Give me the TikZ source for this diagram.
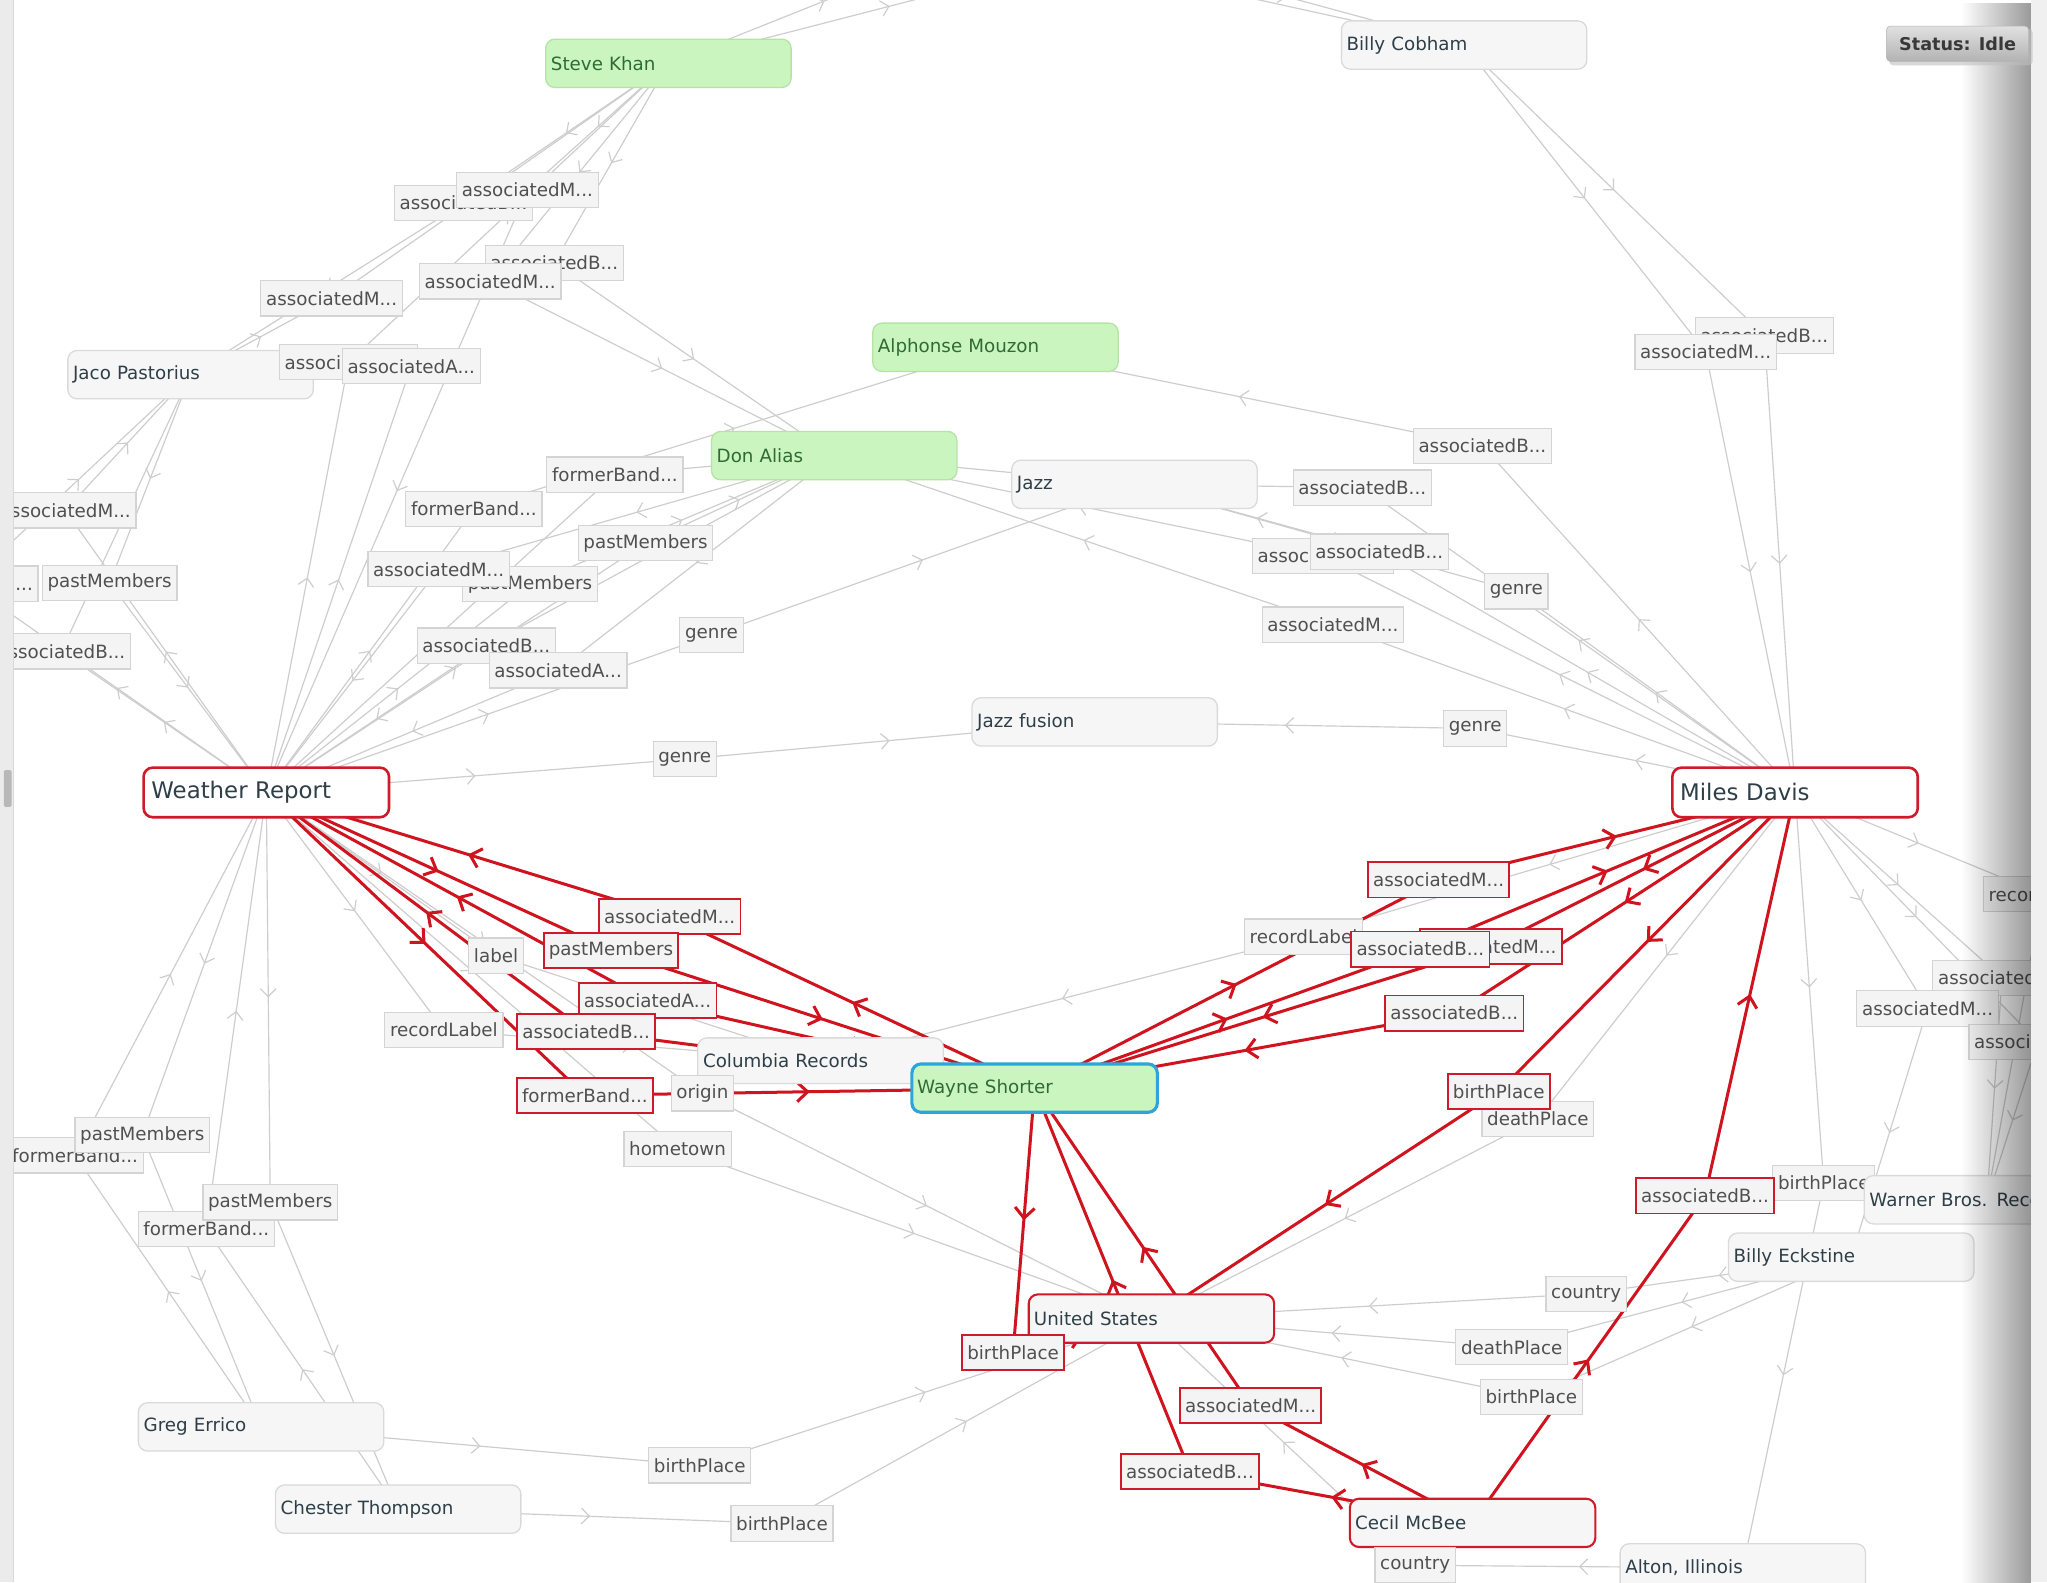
\documentclass[tikz,border=0pt]{standalone}
\usepackage{fontspec}
\setmainfont{DejaVu Sans}
\usetikzlibrary{arrows.meta,decorations.markings,fadings}
\definecolor{edgegray}{HTML}{CDCDCD}
\definecolor{redc}{HTML}{CE1B2B}
\definecolor{rededge}{HTML}{D0141F}
\definecolor{nodefill}{HTML}{F6F6F6}
\definecolor{nodeborder}{HTML}{DADADA}
\definecolor{nodetext}{HTML}{2E3F48}
\definecolor{greenfill}{HTML}{CBF5BF}
\definecolor{greenborder}{HTML}{B5E3A6}
\definecolor{greentext}{HTML}{2F6B35}
\definecolor{bluebord}{HTML}{2EA3DC}
\definecolor{lblfill}{HTML}{F4F4F4}
\definecolor{lblborder}{HTML}{D4D4D4}
\definecolor{lbltext}{HTML}{505050}
\pgfdeclarelayer{bg}
\pgfdeclarelayer{edges}
\pgfsetlayers{bg,edges,main}
\tikzset{
  ent/.style={rectangle, rounded corners=7pt, draw=nodeborder, line width=1pt, fill=nodefill, text=nodetext, font=\fontsize{14}{16}\selectfont, inner xsep=4pt, inner ysep=0pt, text width=180pt, minimum height=37pt, align=left},
  grn/.style={ent, fill=greenfill, draw=greenborder, text=greentext},
  rednode/.style={ent, draw=redc, line width=1.6pt},
  big/.style={rednode, line width=2pt, fill=white, font=\fontsize{17.5}{20}\selectfont, inner xsep=6pt, text width=176pt, minimum height=38pt},
  wsnode/.style={ent, fill=greenfill, draw=bluebord, line width=2.4pt, text=greentext},
  lbl/.style={rectangle, draw=lblborder, line width=0.9pt, fill=lblfill, text=lbltext, font=\fontsize{14}{16}\selectfont, inner xsep=4pt, inner ysep=0pt, minimum height=27pt},
  rlbl/.style={lbl, draw=redc, line width=1.4pt},
  midarr/.style={decoration={markings, mark=at position 0.5 with {\arrow{#1}}}, postaction={decorate}},
  gedge/.style={draw=edgegray, line width=0.9pt, midarr={Straight Barb[length=6pt,width=12pt]}},
  gline/.style={draw=edgegray, line width=0.9pt},
  redge/.style={draw=rededge, line width=2.3pt, midarr={Straight Barb[length=8pt,width=15pt]}},
}
\newcommand{\grel}[3]{\draw[gedge] (#1.center) -- (#2.center); \draw[gedge] (#2.center) -- (#3.center);}
\newcommand{\rrel}[3]{\draw[redge] (#1.center) -- (#2.center); \draw[redge] (#2.center) -- (#3.center);}
\begin{document}
\begin{tikzpicture}[x=1pt,y=-1pt]
\useasboundingbox (0,0) rectangle (1568,1212);
\begin{pgfonlayer}{bg}
\fill[white] (0,0) rectangle (1568,1212);
\end{pgfonlayer}
% main nodes
\node[grn] (sk) at (512,48.5) {Steve Khan};
\node[ent] (bc) at (1121.5,34.5) {Billy Cobham};
\node[grn] (am) at (762.5,266) {Alphonse Mouzon};
\node[ent] (jp) at (146,287) {Jaco Pastorius};
\node[grn] (da) at (639,349) {Don Alias};
\node[ent] (jz) at (869,371) {Jazz};
\node[ent] (jf) at (838.5,553) {Jazz fusion};
\node[big] (wr) at (204,607) {Weather Report};
\node[big] (md) at (1375,607) {Miles Davis};
\node[ent, minimum height=35pt] (cr) at (628.5,812.5) {Columbia Records};
\node[wsnode] (ws) at (792.5,833.5) {Wayne Shorter};
\node[rednode] (us) at (882,1010) {United States};
\node[ent] (ge) at (200,1093) {Greg Errico};
\node[ent] (ct) at (305,1156) {Chester Thompson};
\node[rednode] (cm) at (1128,1166.5) {Cecil McBee};
\node[ent] (ai) at (1335,1201) {Alton, Illinois};
\node[ent] (be) at (1418,963) {Billy Eckstine};
\coordinate (top1) at (751,-47);
\coordinate (top2) at (851,-39);
% labels top-left
\node[lbl] (a1) at (355,155.5) {associatedB...};
\node[lbl] (a2) at (404,145.5) {associatedM...};
\node[lbl] (a3) at (424.5,201.5) {associatedB...};
\node[lbl] (a4) at (375.5,215.5) {associatedM...};
\node[lbl] (a5) at (254,228.5) {associatedM...};
\node[lbl] (a6) at (267,277.5) {associatedB...};
\node[lbl] (a7) at (315,280.5) {associatedA...};
% left
\node[lbl] (b0) at (-25,447) {associatedM...};
\node[lbl] (b1) at (50,391) {associatedM...};
\node[lbl] (b2) at (84,446.5) {pastMembers};
\node[lbl] (b3) at (47,499) {associatedB...};
% Don Alias cluster
\node[lbl] (c2) at (363,390) {formerBand...};
\node[lbl] (c1) at (471,363.5) {formerBand...};
\node[lbl] (c5) at (406,447.5) {pastMembers};
\node[lbl] (c4) at (336,436) {associatedM...};
\node[lbl] (c3) at (494.5,416) {pastMembers};
\node[lbl] (c6) at (545,486.5) {genre};
\node[lbl] (c7) at (372.5,494.5) {associatedB...};
\node[lbl] (c8) at (427.5,513.5) {associatedA...};
\node[lbl] (c9) at (524.5,581.5) {genre};
% right top
\node[lbl] (rb) at (1351.5,257) {associatedB...};
\node[lbl] (rm) at (1306.5,269.5) {associatedM...};
\node[lbl] (r1) at (1135.5,341.5) {associatedB...};
\node[lbl] (r2) at (1043.5,373.5) {associatedB...};
\node[lbl] (r3) at (1013.5,426) {associatedM...};
\node[lbl] (r4) at (1056.5,422.5) {associatedB...};
\node[lbl] (r5) at (1161.5,453) {genre};
\node[lbl] (r6) at (1021,478.5) {associatedM...};
\node[lbl] (r7) at (1130,558) {genre};
% right edge
\node[lbl] (e1) at (1564.5,685) {recordLabel};
\node[lbl] (e2) at (1533.5,749) {associatedB...};
\node[lbl] (e3) at (1476.5,772.5) {associatedM...};
\node[lbl] (e4) at (1561,798) {associatedA...};
% centre right
\node[lbl] (x1) at (998.5,717.5) {recordLabel};
\node[rlbl] (x2) at (1142,725) {associatedM...};
\node[rlbl] (x3) at (1088,727) {associatedB...};
\node[rlbl] (x4) at (1102,674) {associatedM...};
\node[rlbl] (x5) at (1114,776) {associatedB...};
\node[lbl] (x6) at (1178,857) {deathPlace};
\node[rlbl] (x7) at (1148,836) {birthPlace};
\node[lbl] (x8) at (1397,906) {birthPlace};
\node[rlbl] (x9) at (1306,916) {associatedB...};
\node[lbl] (y1) at (1215,991) {country};
\node[lbl] (y2) at (1158,1032) {deathPlace};
\node[lbl] (y3) at (1173,1070) {birthPlace};
\node[lbl] (y4) at (1084,1199) {country};
\node[rlbl] (y5) at (776,1036) {birthPlace};
\node[rlbl] (y6) at (958,1076.5) {associatedM...};
\node[rlbl] (y7) at (911.5,1127) {associatedB...};
% left red
\node[rlbl] (z1) at (513,702) {associatedM...};
\node[lbl] (z0) at (380,732) {label};
\node[rlbl] (z2) at (468,728) {pastMembers};
\node[rlbl] (z3) at (496,766.5) {associatedA...};
\node[lbl] (z4) at (340,789) {recordLabel};
\node[rlbl] (z5) at (449,790) {associatedB...};
\node[rlbl] (z6) at (448,839) {formerBand...};
\node[lbl] (z7) at (538,837.5) {origin};
\node[lbl] (z8) at (519,880) {hometown};
% lower left
\node[lbl] (w2) at (57.5,885) {formerBand...};
\node[lbl] (w1) at (109,869.5) {pastMembers};
\node[lbl] (w4) at (158,941.5) {formerBand...};
\node[lbl] (w3) at (207,921) {pastMembers};
\node[lbl] (w5) at (536,1122.5) {birthPlace};
\node[lbl] (w6) at (599,1167) {birthPlace};
\node[ent] (wb) at (1522,919) {Warner Bros. Records};
% edges
\begin{pgfonlayer}{edges}
\grel{sk}{top1}{bc}
\grel{sk}{top2}{bc}
\grel{sk}{a1}{jp}
\grel{sk}{a2}{wr}
\grel{sk}{a3}{da}
\grel{sk}{a4}{da}
\grel{jp}{a5}{sk}
\grel{wr}{a6}{sk}
\grel{wr}{a7}{jp}
\grel{wr}{b0}{jp}
\grel{wr}{b1}{jp}
\grel{jp}{b2}{wr}
\grel{wr}{b3}{jp}
\grel{wr}{c1}{da}
\grel{wr}{c2}{am}
\grel{wr}{c3}{da}
\grel{da}{c4}{wr}
\grel{wr}{c5}{da}
\grel{da}{c7}{wr}
\grel{da}{c8}{wr}
\grel{wr}{c6}{jz}
\grel{wr}{c9}{jf}
\draw[gline] (da.center) -- (jz.center);
\grel{md}{r1}{am}
\grel{md}{r2}{jz}
\grel{md}{r3}{da}
\grel{md}{r4}{jz}
\grel{md}{r5}{jz}
\grel{md}{r6}{da}
\grel{md}{r7}{jf}
\grel{bc}{rm}{md}
\grel{bc}{rb}{md}
\grel{md}{e1}{wb}
\grel{md}{e2}{wb}
\grel{md}{e3}{be}
\grel{md}{e4}{wb}
\grel{md}{x1}{cr}
\grel{md}{x6}{us}
\grel{md}{x8}{ai}
\grel{wr}{z0}{cr}
\grel{wr}{z4}{cr}
\grel{wr}{z7}{us}
\grel{wr}{z8}{us}
\grel{ge}{w5}{us}
\grel{ct}{w6}{us}
\grel{be}{y1}{us}
\grel{be}{y2}{us}
\grel{be}{y3}{us}
\grel{ai}{y4}{us}
\grel{wr}{w1}{ge}
\grel{ge}{w2}{wr}
\grel{wr}{w3}{ct}
\grel{ct}{w4}{wr}
% red
\rrel{ws}{z1}{wr}
\rrel{wr}{z2}{ws}
\rrel{ws}{z3}{wr}
\rrel{ws}{z5}{wr}
\rrel{wr}{z6}{ws}
\rrel{ws}{x4}{md}
\rrel{ws}{x3}{md}
\rrel{md}{x2}{ws}
\rrel{md}{x5}{ws}
\rrel{md}{x7}{us}
\rrel{cm}{x9}{md}
\rrel{ws}{y5}{us}
\rrel{cm}{y6}{ws}
\rrel{cm}{y7}{ws}
\end{pgfonlayer}
% left strip
\fill[black!8] (0,0) rectangle (10,1212);
\draw[black!15] (10,0) -- (10,1212);
\fill[black!28, rounded corners=1pt] (3,590) rectangle (9,618);
% right shading
\fill[black, opacity=0.4, path fading=west] (1502,0) rectangle (1556,1212);
\fill[black!6] (1556,0) rectangle (1568,1212);
% status
\fill[black!25, rounded corners=3pt, opacity=0.6] (1447,22) rectangle (1557,50);
\node[top color=black!12, bottom color=black!30, draw=black!30, rounded corners=3pt, font=\bfseries\fontsize{13.5}{16}\selectfont, text=black!78, minimum width=109pt, minimum height=27pt, inner sep=0pt] (status) at (1499.5,33.5) {Status: Idle};
\end{tikzpicture}
\end{document}
